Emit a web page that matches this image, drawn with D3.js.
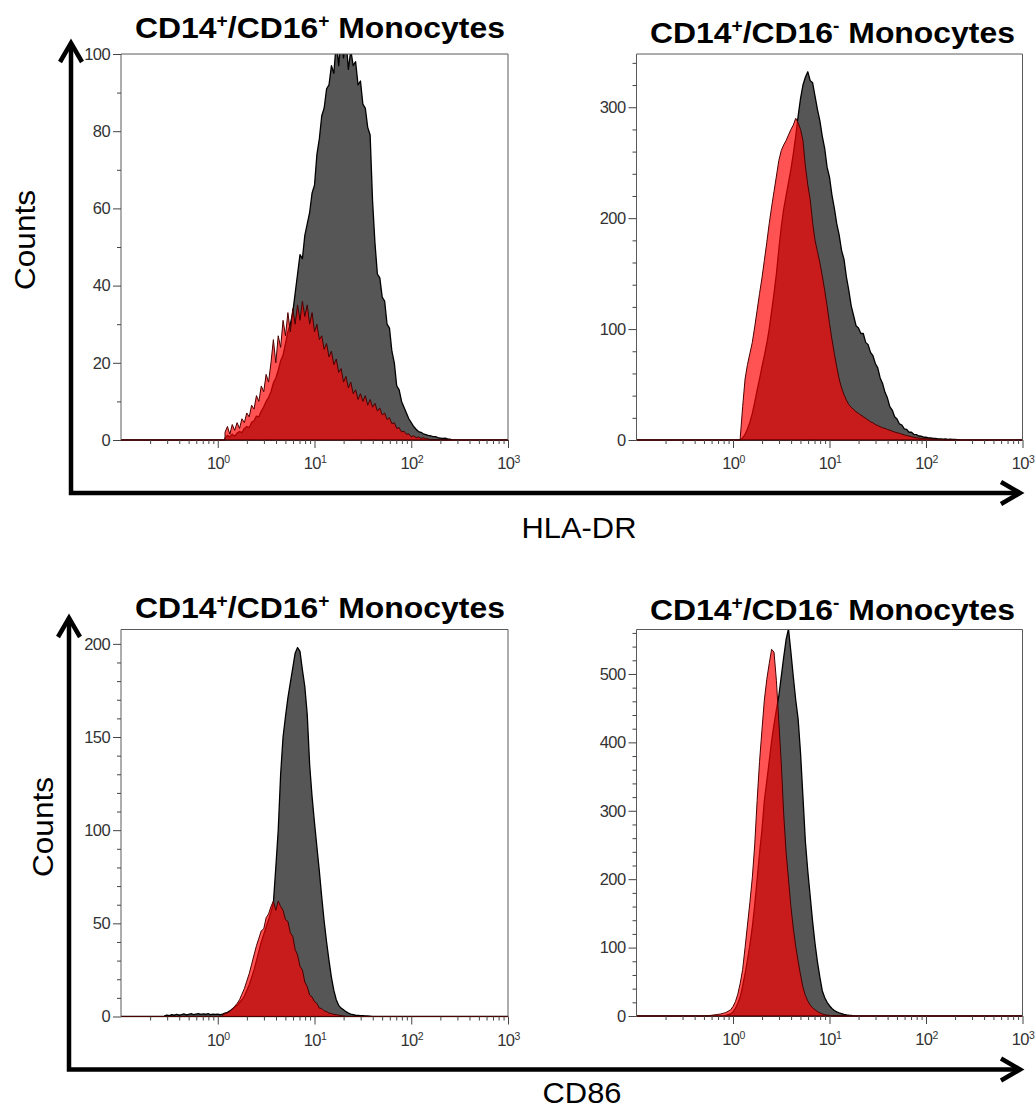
<!DOCTYPE html>
<html>
<head>
<meta charset="utf-8">
<script src="https://cdn.jsdelivr.net/npm/d3@7"></script>
<style>
  body { margin: 0; background: #fff; }
  svg { display: block; }
  text { white-space: pre; }
</style>
</head>
<body>
<div id="chart"></div>
<script>
const WIDTH = 1036;
const HEIGHT = 1117;
const FONT = '"Liberation Sans", Arial, Helvetica, sans-serif';

// channels are spaced evenly in log10 of the fluorescence
const BIN_STEP = 0.025;
const X_DOMAIN = [0.1, 1000];
const xDecades = [0, 1, 2, 3];

// HLA-DR, CD14+/CD16+ (log10 of first channel, then counts)
const hlaPosGrayStart = 0.075;
const hlaPosGray = [0.5, 1.2, 0.8, 1.5, 1.0, 1.8, 2.2, 1.9, 3.0, 3.5, 3.2, 4.6, 5.0, 6.2, 6.0, 7.5, 8.6, 10, 11, 12.5,
  14.8, 16, 18, 20.5, 22, 25, 28, 30, 33, 38, 43, 48, 47, 53, 56, 59, 64, 66, 74, 78,
  84, 86, 91, 92, 97, 95, 103, 97, 105, 99, 104, 96, 101, 97, 98, 92, 93, 87, 86, 81,
  79, 62, 51, 43, 42, 37, 36, 30, 29, 23, 20, 14, 13, 10, 8.5, 7, 5.5, 4.5, 3.5, 2.8,
  2.2, 2, 1.6, 1.4, 1.2, 1.1, 0.9, 0.9, 0.6, 0.5, 0.4, 0.5, 0.3, 0.2, 0];
const hlaPosRedStart = 0.075;
const hlaPosRed = [2, 3.5, 1.5, 4, 2.5, 4.5, 3, 5.5, 4.5, 7, 6, 9, 8, 11.5, 10, 14, 12.5, 17, 15, 20,
  26, 20, 27, 24, 31, 27, 33, 28, 34, 30, 35, 31, 36, 32, 35, 30, 33, 28, 30, 26,
  27, 23.5, 25, 21.5, 23, 19.5, 21, 17.5, 18.5, 15, 16.5, 13.5, 15, 12, 13, 10.5, 12, 10, 11.5, 9,
  10.5, 8.5, 9.5, 7.5, 8.3, 6.5, 7, 5.3, 5.8, 4.2, 4.5, 3, 3.2, 2.1, 2.3, 1.5, 1.6, 0.8, 1.1, 0.6,
  0.8, 0.4, 0.6, 0.3, 0.3, 0];
const hlaPosYMax = 100;
const hlaPosYTicks = [0, 20, 40, 60, 80, 100];
const hlaPosYMinor = 10;

// HLA-DR, CD14+/CD16-
const hlaNegGrayStart = 0.075;
const hlaNegGray = [0, 2, 5, 10, 16, 24, 34, 45, 55, 66, 76, 87, 100, 116, 132, 150, 172, 192, 208, 220,
  232, 244, 258, 274, 292, 308, 320, 327, 332, 324, 322, 310, 298, 288, 274, 263, 246, 237, 221, 209,
  195, 185, 171, 163, 147, 135, 121, 112, 103, 101, 96, 96, 88, 86, 79, 76, 69, 65, 56, 51,
  43, 38, 30, 27, 21, 19, 14.5, 13.5, 10, 9.5, 7, 7, 5, 4.8, 3.6, 3.4, 2.6, 2.5, 2, 1.8,
  1.4, 1.4, 1, 1.1, 0.8, 0.9, 0.6, 0.7, 0.5, 0.6, 0.3, 0];
const hlaNegRedStart = 0.075;
const hlaNegRed = [2, 30, 55, 68, 78, 88, 102, 117, 132, 146, 162, 178, 195, 210, 224, 238, 252, 261, 266, 270,
  275, 280, 284, 290, 286, 280, 270, 247, 230, 217, 196, 180, 170, 160, 148, 135, 121, 105, 91, 78,
  66, 55, 47, 41, 36, 32, 29.5, 27.5, 25.5, 24, 22.5, 21, 19.5, 18, 16.5, 15.5, 14, 13, 12, 11,
  10.5, 9.5, 8.8, 8, 7.2, 6.5, 6, 5.3, 4.6, 4, 3.5, 3, 2.5, 2, 1.7, 1.5, 1.3, 1.2, 1, 0.8,
  0.7, 0.6, 0.4, 0.3, 0.2, 0];
const hlaNegYMax = 348;
const hlaNegYTicks = [0, 100, 200, 300];
const hlaNegYMinor = 20;

// CD86, CD14+/CD16+
const cd86PosGrayStart = -0.55;
const cd86PosGray = [0.3, 0.8, 0.5, 1, 0.7, 1.2, 0.8, 1, 1.4, 0.9, 1.2, 1.5, 1, 1.3, 1.6, 1.1, 1.4, 1.2, 1.5, 1,
  1.3, 1.1, 1.2, 1, 1.3, 1.8, 2.2, 3, 4, 5, 6, 7.5, 9, 11, 14, 17, 21, 25, 30, 35,
  40, 44, 48, 52, 56, 61, 80, 100, 130, 150, 161, 171, 179, 187, 195, 198, 196, 186, 177, 162,
  135, 118, 104, 91, 78, 64, 51, 40, 30, 21, 14, 9, 6, 4.5, 3.6, 2.6, 1.8, 1.3, 1, 0.7,
  0.6, 0.5, 0.4, 0.3, 0.3, 0.2, 0];
const cd86PosRedStart = 0.05;
const cd86PosRed = [1, 1.5, 2, 2.7, 4, 5.5, 7, 9, 12, 15, 19, 23, 28, 33, 38, 42, 46, 47, 53, 55,
  59, 62, 57, 62, 59, 57, 52, 51, 45, 43, 36, 33, 27, 25, 18.5, 16, 11.5, 10.5, 8, 7,
  4.5, 4.3, 3, 2.7, 1.8, 1.6, 1.1, 1, 0.7, 0.5, 0.3, 0];
const cd86PosYMax = 207.7;
const cd86PosYTicks = [0, 50, 100, 150, 200];
const cd86PosYMinor = 10;

// CD86, CD14+/CD16-
const cd86NegGrayStart = -0.1;
const cd86NegGray = [0.5, 1, 2, 3, 6, 11, 19, 28, 44, 62, 82, 104, 130, 162, 200, 238, 272, 315, 343, 372,
  402, 426, 448, 468, 496, 524, 550, 566, 532, 496, 462, 434, 384, 320, 255, 212, 175, 138, 106, 79,
  57, 37, 27, 20, 15, 11, 8, 6, 4.5, 3.5, 2.5, 1.8, 1.2, 0.8, 0];
const cd86NegRedStart = -0.25;
const cd86NegRed = [0.5, 1, 1.5, 2, 2.5, 3, 4, 5, 7, 9, 14, 21, 32, 48, 68, 100, 133, 166, 202, 250,
  315, 372, 418, 462, 492, 515, 536, 532, 490, 430, 370, 296, 240, 200, 160, 128, 102, 80, 60, 42,
  30, 22, 16, 12, 9, 6.5, 4.5, 3, 2, 1.3, 0.8, 0.4, 0];
const cd86NegYMax = 565;
const cd86NegYTicks = [0, 100, 200, 300, 400, 500];
const cd86NegYMinor = 20;

const titleCd16Pos = [['CD14', false], ['+', true], ['/CD16', false], ['+', true], [' Monocytes', false]];
const titleCd16Neg = [['CD14', false], ['+', true], ['/CD16', false], ['-', true], [' Monocytes', false]];

const svg = d3
  .select('#chart')
  .append('svg')
  .attr('width', WIDTH)
  .attr('height', HEIGHT);

// stretch a text element horizontally so it covers the width seen in the figure
const fitWidth = (sel, width, tx, ty, rotate) => {
  const w = sel.node().getBBox().width;
  sel.attr('transform', `translate(${tx},${ty})${rotate ? ' rotate(-90)' : ''} scale(${width / w},1)`);
};

const drawTitle = (parts, left, baseline, width) => {
  const t = svg
    .append('text')
    .attr('font-family', FONT)
    .attr('font-weight', 'bold')
    .attr('font-size', 30)
    .attr('fill', '#000');
  let raised = false;
  parts.forEach(([s, sup]) => {
    const dy = sup && !raised ? -11 : !sup && raised ? 11 : 0;
    raised = sup;
    t.append('tspan').attr('dy', dy).attr('font-size', sup ? 18 : 30).text(s);
  });
  fitWidth(t, width, left, baseline, false);
};

const drawLabel = (s, cx, baseline, width, rotate) => {
  const t = svg
    .append('text')
    .attr('font-family', FONT)
    .attr('font-size', 30)
    .attr('text-anchor', 'middle')
    .attr('fill', '#000')
    .text(s);
  fitWidth(t, width, cx, baseline, rotate);
};

const drawPanel = p => {
  const x = d3.scaleLog().domain(X_DOMAIN).range([p.left, p.right]);
  const y = d3.scaleLinear().domain([0, p.yMax]).range([p.bottom, p.top]);
  const g = svg.append('g');

  g.append('clipPath')
    .attr('id', `clip-${p.id}`)
    .append('rect')
    .attr('x', p.left)
    .attr('y', p.top)
    .attr('width', p.right - p.left)
    .attr('height', p.bottom - p.top + 1);

  // flat at zero outside the recorded channels, vertical step where they start
  const toPoints = (start, values) => [
    [X_DOMAIN[0], 0],
    [Math.pow(10, start), 0],
    ...values.map((v, i) => [Math.pow(10, start + i * BIN_STEP), v]),
    [X_DOMAIN[1], 0]
  ];
  const area = d3
    .area()
    .x(d => x(d[0]))
    .y0(y(0))
    .y1(d => y(d[1]));

  const plot = g.append('g').attr('clip-path', `url(#clip-${p.id})`);
  plot
    .append('path')
    .datum(toPoints(p.grayStart, p.gray))
    .attr('d', area)
    .attr('fill', '#565656')
    .attr('stroke', '#000')
    .attr('stroke-width', 1.3)
    .attr('stroke-linejoin', 'round');
  plot
    .append('path')
    .datum(toPoints(p.redStart, p.red))
    .attr('d', area)
    .attr('fill', 'rgba(255,0,0,0.68)')
    .attr('stroke', '#4a0000')
    .attr('stroke-width', 1)
    .attr('stroke-linejoin', 'round');

  // frame: left, top and right (the baseline comes from the histograms)
  g.append('path')
    .attr('d', `M${p.left},${p.bottom}V${p.top}H${p.right}V${p.bottom}`)
    .attr('fill', 'none')
    .attr('stroke', '#5a5a5a')
    .attr('stroke-width', 1);

  // Y axis
  const yAxis = g
    .append('g')
    .attr('transform', `translate(${p.left},0)`)
    .attr('color', '#444')
    .call(d3.axisLeft(y).tickValues(p.yTicks).tickSize(8).tickPadding(3));
  yAxis.select('.domain').remove();
  yAxis
    .selectAll('text')
    .attr('font-size', 16.5)
    .attr('font-family', FONT)
    .attr('letter-spacing', -0.6)
    .attr('fill', '#333');
  const minorY = d3.range(0, p.yMax, p.yMinor).filter(v => !p.yTicks.includes(v));
  const yMinorAxis = g
    .append('g')
    .attr('transform', `translate(${p.left},0)`)
    .attr('color', '#444')
    .call(d3.axisLeft(y).tickValues(minorY).tickSize(4).tickFormat(''));
  yMinorAxis.select('.domain').remove();

  // X axis, decades with labels 10^n
  const xAxis = g
    .append('g')
    .attr('transform', `translate(0,${p.bottom})`)
    .attr('color', '#444')
    .call(
      d3
        .axisBottom(x)
        .tickValues(xDecades.map(e => Math.pow(10, e)))
        .tickSize(8)
        .tickFormat('')
    );
  xAxis.select('.domain').remove();
  xAxis
    .selectAll('text')
    .attr('y', 29)
    .attr('dy', 0)
    .attr('font-size', 16.5)
    .attr('font-family', FONT)
    .attr('letter-spacing', -0.6)
    .attr('fill', '#333')
    .each(function (d) {
      const t = d3.select(this);
      t.append('tspan').text('10');
      t.append('tspan')
        .attr('dy', -6)
        .attr('font-size', 10.5)
        .text(Math.round(Math.log10(d)));
    });
  const minorX = [];
  for (let e = -1; e < 3; e++) {
    for (let k = 2; k <= 9; k++) minorX.push(k * Math.pow(10, e));
  }
  const xMinorAxis = g
    .append('g')
    .attr('transform', `translate(0,${p.bottom})`)
    .attr('color', '#444')
    .call(d3.axisBottom(x).tickValues(minorX).tickSize(4).tickFormat(''));
  xMinorAxis.select('.domain').remove();
};

drawPanel({
  id: 'hla-pos', left: 121, right: 508, top: 54, bottom: 440,
  yMax: hlaPosYMax, yTicks: hlaPosYTicks, yMinor: hlaPosYMinor,
  gray: hlaPosGray, grayStart: hlaPosGrayStart, red: hlaPosRed, redStart: hlaPosRedStart
});
drawPanel({
  id: 'hla-neg', left: 636.5, right: 1022.5, top: 54, bottom: 440,
  yMax: hlaNegYMax, yTicks: hlaNegYTicks, yMinor: hlaNegYMinor,
  gray: hlaNegGray, grayStart: hlaNegGrayStart, red: hlaNegRed, redStart: hlaNegRedStart
});
drawPanel({
  id: 'cd86-pos', left: 121, right: 508, top: 629.5, bottom: 1016.5,
  yMax: cd86PosYMax, yTicks: cd86PosYTicks, yMinor: cd86PosYMinor,
  gray: cd86PosGray, grayStart: cd86PosGrayStart, red: cd86PosRed, redStart: cd86PosRedStart
});
drawPanel({
  id: 'cd86-neg', left: 636.5, right: 1022.5, top: 629.5, bottom: 1016,
  yMax: cd86NegYMax, yTicks: cd86NegYTicks, yMinor: cd86NegYMinor,
  gray: cd86NegGray, grayStart: cd86NegGrayStart, red: cd86NegRed, redStart: cd86NegRedStart
});

// TITLES
drawTitle(titleCd16Pos, 135, 37.5, 370);
drawTitle(titleCd16Neg, 650, 43, 365);
drawTitle(titleCd16Pos, 135, 618, 370);
drawTitle(titleCd16Neg, 650, 620, 365);

// BIG AXIS ARROWS
const arrows = svg
  .append('g')
  .attr('fill', 'none')
  .attr('stroke', '#000')
  .attr('stroke-width', 4.5);
arrows.append('path').attr('d', 'M71,43V493H1020').attr('stroke-linejoin', 'miter');
arrows.append('path').attr('d', 'M60,62L71,43L82,62');
arrows.append('path').attr('d', 'M1001,482L1020,493L1001,504');
arrows.append('path').attr('d', 'M69,618V1069.5H1020').attr('stroke-linejoin', 'miter');
arrows.append('path').attr('d', 'M58,637L69,618L80,637');
arrows.append('path').attr('d', 'M1001,1058.5L1020,1069.5L1001,1080.5');

// AXIS LABELS
drawLabel('Counts', 35, 240, 100, true);
drawLabel('Counts', 53, 827, 100, true);
drawLabel('HLA-DR', 579, 538, 115, false);
drawLabel('CD86', 582, 1103, 79, false);
</script>
</body>
</html>
